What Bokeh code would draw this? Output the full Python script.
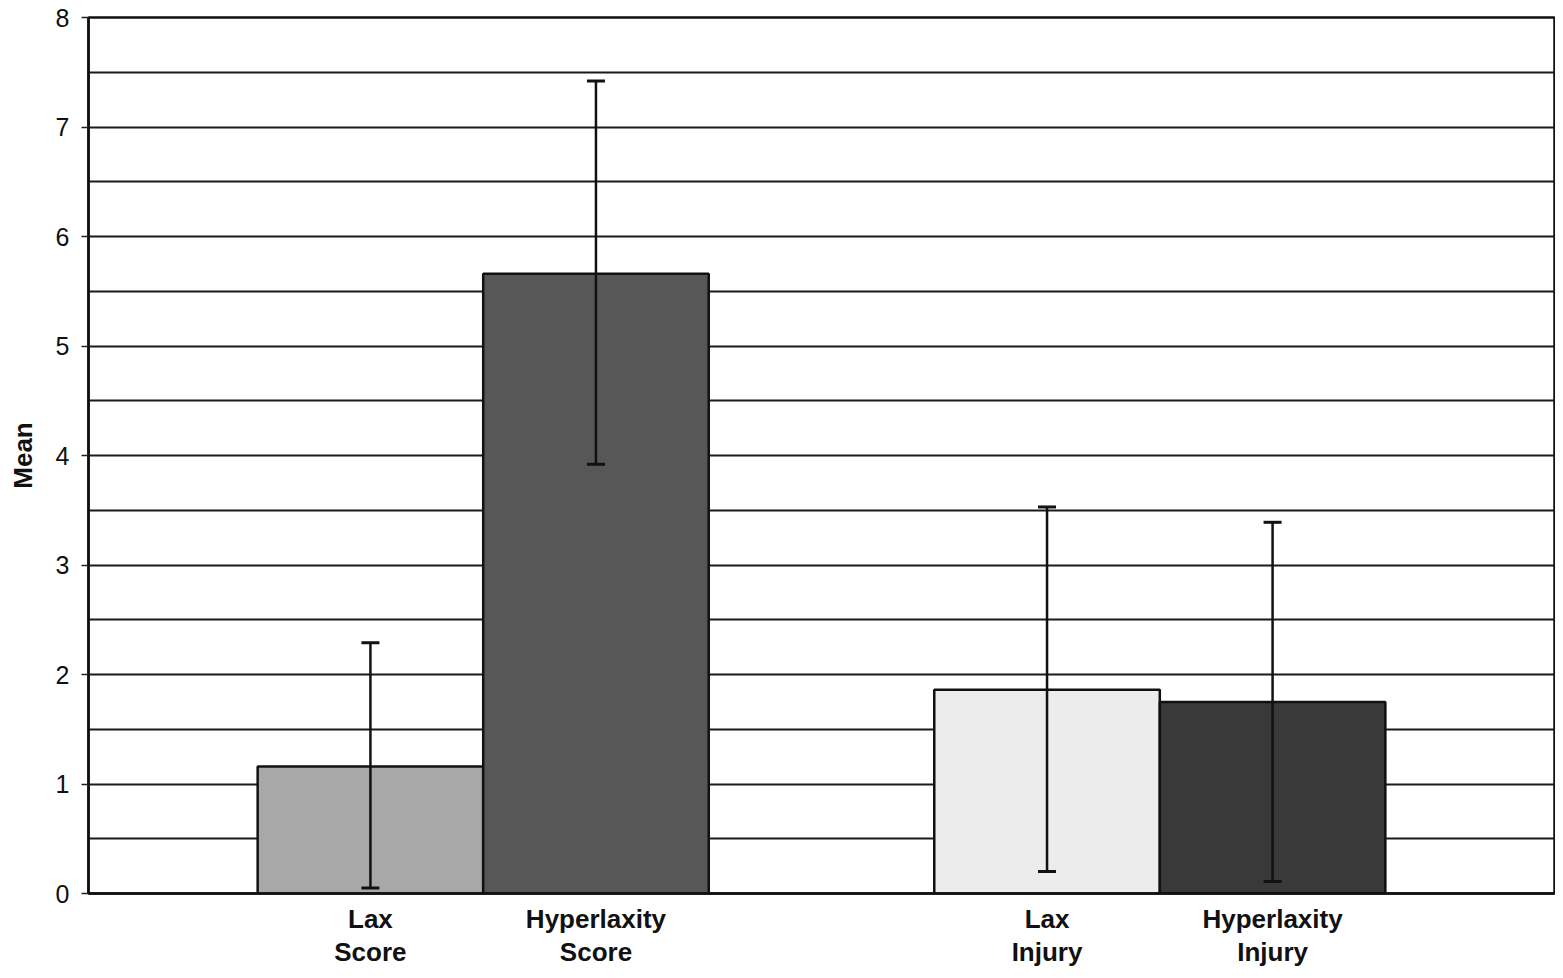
from bokeh.plotting import figure
from bokeh.models import FixedTicker, ColumnDataSource, Whisker, TeeHead, Range1d
from bokeh.embed import file_html
from bokeh.resources import INLINE
import numpy as np

categories = ["Lax\nScore", "Hyperlaxity\nScore", "Lax\nInjury", "Hyperlaxity\nInjury"]
positions = [1.25, 2.25, 4.25, 5.25]
means = [1.16, 5.66, 1.86, 1.75]
err_upper = [2.29, 7.42, 3.53, 3.39]
err_lower = [0.05, 3.92, 0.20, 0.11]
colors = ["#a8a8a8", "#575757", "#ececec", "#393939"]
y_ticks = [0, 1, 2, 3, 4, 5, 6, 7, 8]
grid_ticks = list(np.arange(0, 8.01, 0.5))

p = figure(width=1555, height=970, output_backend="svg", toolbar_location=None,
           x_range=Range1d(0, 6.5), y_range=Range1d(0, 8),
           min_border_left=88, min_border_top=17, min_border_right=1, min_border_bottom=72)

src = ColumnDataSource(dict(x=positions, top=means, upper=err_upper, lower=err_lower, color=colors))
p.vbar(x="x", top="top", bottom=0, width=1.0, source=src, fill_color="color",
       line_color="#111111", line_width=2.5)

w = Whisker(base="x", upper="upper", lower="lower", source=src, dimension="height",
            line_color="#111111", line_width=2.5, level="overlay",
            upper_head=TeeHead(size=18, line_color="#111111", line_width=3),
            lower_head=TeeHead(size=18, line_color="#111111", line_width=3))
p.add_layout(w)

p.xgrid.visible = False
p.ygrid.ticker = FixedTicker(ticks=grid_ticks)
p.ygrid.grid_line_color = "#1a1a1a"
p.ygrid.grid_line_width = 2

p.outline_line_color = "#111111"
p.outline_line_width = 2.5

p.yaxis.ticker = FixedTicker(ticks=y_ticks)
p.yaxis.minor_tick_line_color = None
p.yaxis.major_tick_in = 0
p.yaxis.major_tick_out = 7
p.yaxis.major_tick_line_width = 1.5
p.yaxis.major_tick_line_color = "#222222"
p.yaxis.axis_line_color = "#111111"
p.yaxis.axis_line_width = 2.5
p.yaxis.major_label_text_font = "Liberation Sans"
p.yaxis.major_label_text_font_size = "25px"
p.yaxis.major_label_text_color = "#111111"
p.yaxis.major_label_standoff = 12
p.yaxis.axis_label = "Mean"
p.yaxis.axis_label_text_font = "Liberation Sans"
p.yaxis.axis_label_text_font_style = "bold"
p.yaxis.axis_label_text_font_size = "26px"
p.yaxis.axis_label_text_color = "#111111"
p.yaxis.axis_label_standoff = 15

p.xaxis.ticker = FixedTicker(ticks=positions)
p.xaxis.major_label_overrides = {pos: lab for pos, lab in zip(positions, categories)}
p.xaxis.major_tick_line_color = None
p.xaxis.minor_tick_line_color = None
p.xaxis.axis_line_color = "#111111"
p.xaxis.axis_line_width = 2.5
p.xaxis.major_label_text_font = "Liberation Sans"
p.xaxis.major_label_text_font_style = "bold"
p.xaxis.major_label_text_font_size = "26px"
p.xaxis.major_label_text_line_height = 1.12
p.xaxis.major_label_text_color = "#111111"
p.xaxis.major_label_standoff = 4

open("out.html", "w").write(file_html(p, INLINE))
